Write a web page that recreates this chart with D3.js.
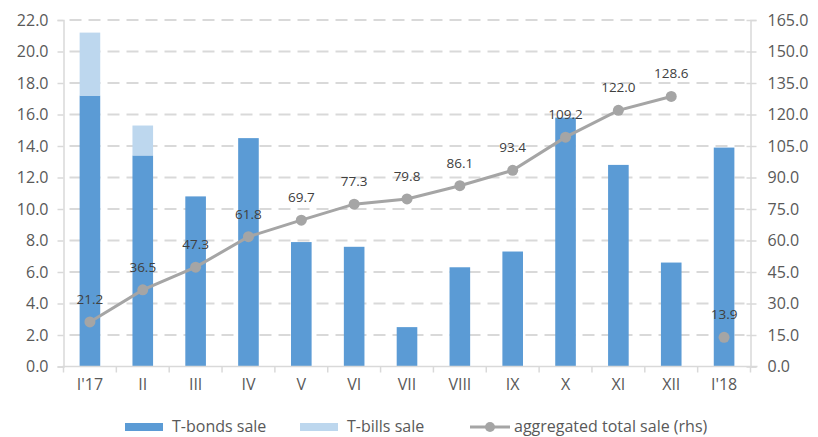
<!DOCTYPE html>
<html>
<head>
<meta charset="utf-8">
<script src="https://cdn.jsdelivr.net/npm/d3@7"></script>
<style>
  html, body { margin: 0; padding: 0; background: #fff; }
  svg { display: block; font-family: "Open Sans", sans-serif; }
</style>
</head>
<body>
<svg id="chart" width="818" height="437"></svg>
<script>
// Monthly sales of treasury securities (left axis) and running total (right axis)
const months = ["I'17", "II", "III", "IV", "V", "VI", "VII", "VIII", "IX", "X", "XI", "XII", "I'18"];
const bondsSale = [17.2, 13.4, 10.8, 14.5, 7.9, 7.6, 2.5, 6.3, 7.3, 15.8, 12.8, 6.6, 13.9];
const billsSale = [4.0, 1.9, 0, 0, 0, 0, 0, 0, 0, 0, 0, 0, 0];
const aggregatedTotal = [21.2, 36.5, 47.3, 61.8, 69.7, 77.3, 79.8, 86.1, 93.4, 109.2, 122.0, 128.6, 13.9];
const leftTicks = [0, 2, 4, 6, 8, 10, 12, 14, 16, 18, 20, 22];
const rightTicks = [0, 15, 30, 45, 60, 75, 90, 105, 120, 135, 150, 165];

const svg = d3.select("#chart");
const plot = { left: 63.5, right: 750.5, top: 20, bottom: 366.5 };

const x = d3.scaleBand().domain(months).range([plot.left, plot.right]).paddingInner(0).paddingOuter(0);
const yL = d3.scaleLinear().domain([0, 22]).range([plot.bottom, plot.top]);
const yR = d3.scaleLinear().domain([0, 165]).range([plot.bottom, plot.top]);

const grid = "#d9d9d9";
const axisColor = "#d9d9d9";
const textColor = "#595959";

// dashed horizontal gridlines
svg.append("g").selectAll("line")
  .data(leftTicks.filter(d => d > 0))
  .join("line")
  .attr("x1", plot.left + 6).attr("x2", plot.right - 6)
  .attr("y1", d => yL(d)).attr("y2", d => yL(d))
  .attr("stroke", grid).attr("stroke-width", 2)
  .attr("stroke-dasharray", "12,7");

// bars: bonds at the bottom, bills stacked on top
const barW = x.bandwidth() * 0.39;
const bars = svg.append("g");
bars.selectAll("rect.bonds")
  .data(months.map((m, i) => ({ m, v: bondsSale[i] })))
  .join("rect")
  .attr("class", "bonds")
  .attr("x", d => x(d.m) + (x.bandwidth() - barW) / 2)
  .attr("width", barW)
  .attr("y", d => yL(d.v))
  .attr("height", d => yL(0) - yL(d.v))
  .attr("fill", "#5b9bd5");
bars.selectAll("rect.bills")
  .data(months.map((m, i) => ({ m, b: bondsSale[i], v: billsSale[i] })).filter(d => d.v > 0))
  .join("rect")
  .attr("class", "bills")
  .attr("x", d => x(d.m) + (x.bandwidth() - barW) / 2)
  .attr("width", barW)
  .attr("y", d => yL(d.b + d.v))
  .attr("height", d => yL(d.b) - yL(d.b + d.v))
  .attr("fill", "#bdd7ee");

// axes
const leftAxis = d3.axisLeft(yL).tickValues(leftTicks).tickFormat(d3.format(".1f")).tickSize(6).tickPadding(9);
const gL = svg.append("g").attr("transform", `translate(${plot.left},0)`).call(leftAxis);
const rightAxis = d3.axisRight(yR).tickValues(rightTicks).tickFormat(d3.format(".1f")).tickSize(6).tickPadding(11);
const gR = svg.append("g").attr("transform", `translate(${plot.right},0)`).call(rightAxis);
// right ticks cross the axis line
gR.selectAll(".tick line").attr("x1", -4);
const bottomAxis = d3.axisBottom(x).tickSize(0).tickPadding(12);
const gB = svg.append("g").attr("transform", `translate(0,${plot.bottom})`).call(bottomAxis);
[gL, gR, gB].forEach(g => {
  g.select(".domain").attr("stroke", axisColor).attr("stroke-width", 1.5);
  g.selectAll(".tick line").attr("stroke", axisColor).attr("stroke-width", 1.5);
  g.selectAll(".tick text").attr("fill", textColor).style("font-size", "16px").style("font-family", "'Open Sans', sans-serif");
});
gB.select(".domain").attr("d", `M${plot.left - 1},0H${plot.right + 7}`);
// category separators below the x axis
svg.append("g").selectAll("line")
  .data(months.slice(1).concat(["__end"]))
  .join("line")
  .attr("x1", (d, i) => i < months.length - 1 ? x(d) : plot.right)
  .attr("x2", (d, i) => i < months.length - 1 ? x(d) : plot.right)
  .attr("y1", plot.bottom).attr("y2", plot.bottom + 6)
  .attr("stroke", axisColor).attr("stroke-width", 1.5);
svg.append("line")
  .attr("x1", plot.left).attr("x2", plot.left)
  .attr("y1", plot.bottom).attr("y2", plot.bottom + 6)
  .attr("stroke", axisColor).attr("stroke-width", 1.5);

// aggregated line (Jan'18 restarts the running total, so it is drawn as a lone point)
const cx = m => x(m) + x.bandwidth() / 2;
const pts = months.map((m, i) => ({ m, v: aggregatedTotal[i] }));
const lineGen = d3.line().x(d => cx(d.m)).y(d => yR(d.v));
svg.append("path")
  .datum(pts.slice(0, 12))
  .attr("d", lineGen)
  .attr("fill", "none")
  .attr("stroke", "#a5a5a5")
  .attr("stroke-width", 3);
svg.append("g").selectAll("circle")
  .data(pts)
  .join("circle")
  .attr("cx", d => cx(d.m)).attr("cy", d => yR(d.v))
  .attr("r", 5.5)
  .attr("fill", "#a5a5a5");
svg.append("g").selectAll("text")
  .data(pts)
  .join("text")
  .attr("x", d => cx(d.m)).attr("y", d => yR(d.v) - 18)
  .attr("text-anchor", "middle")
  .attr("fill", "#404040")
  .style("font-size", "13.5px")
  .text(d => d3.format(".1f")(d.v));

// legend
const lg = svg.append("g").style("font-size", "16px").attr("fill", textColor);
lg.append("rect").attr("x", 125).attr("y", 423).attr("width", 38).attr("height", 8).attr("fill", "#5b9bd5");
lg.append("text").attr("x", 172).attr("y", 432).text("T-bonds sale");
lg.append("rect").attr("x", 300).attr("y", 423).attr("width", 38).attr("height", 8).attr("fill", "#bdd7ee");
lg.append("text").attr("x", 347).attr("y", 432).text("T-bills sale");
lg.append("line").attr("x1", 470).attr("x2", 510).attr("y1", 427).attr("y2", 427)
  .attr("stroke", "#a5a5a5").attr("stroke-width", 3);
lg.append("circle").attr("cx", 490).attr("cy", 427).attr("r", 5).attr("fill", "#a5a5a5");
lg.append("text").attr("x", 514).attr("y", 432).text("aggregated total sale (rhs)");
</script>
</body>
</html>
